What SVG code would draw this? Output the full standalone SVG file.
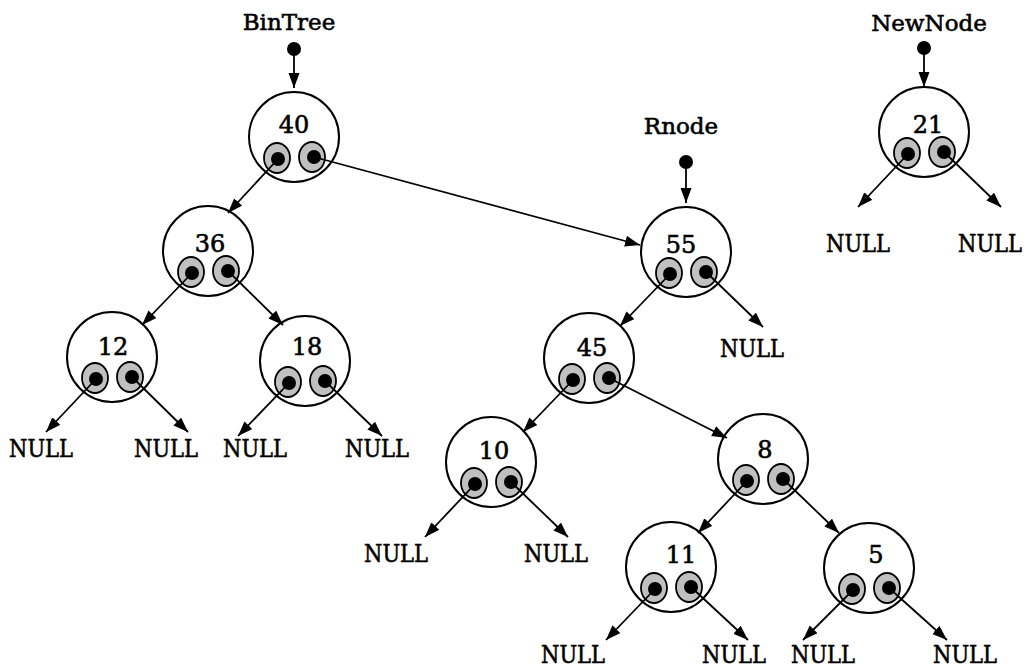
<svg xmlns="http://www.w3.org/2000/svg" width="1034" height="667" viewBox="0 0 1034 667">
<style>
.c{fill:#fff;stroke:#000;stroke-width:2}
.e{fill:#c0c0c0;stroke:#000;stroke-width:1.8}
.d{fill:#000}
.t{font-family:"DejaVu Serif","Liberation Serif",serif;font-size:23px;fill:#000;stroke:#000;stroke-width:0.6;text-anchor:middle}
.n{font-family:"DejaVu Serif","Liberation Serif",serif;font-size:24px;fill:#000;stroke:#000;stroke-width:0.6;text-anchor:middle}
.l{stroke:#000;stroke-width:1.8;fill:none;marker-end:url(#a)}
</style>
<defs>
<marker id="a" markerUnits="userSpaceOnUse" markerWidth="16" markerHeight="12" refX="15" refY="5.5" orient="auto">
<path d="M0,0 L15,5.5 L0,11 z" fill="#000"/>
</marker>
<g id="pp">
<ellipse class="e" cx="-17" cy="21" rx="13" ry="15"/>
<ellipse class="e" cx="18" cy="20" rx="13" ry="15"/>
<circle class="d" cx="-16" cy="22" r="7"/>
<circle class="d" cx="20" cy="20" r="7"/>
</g>
</defs>
<rect width="1034" height="667" fill="#fff"/>

<g id="labels">
<text class="t" x="289" y="30">BinTree</text>
<text class="t" x="681" y="134">Rnode</text>
<text class="t" x="929" y="31">NewNode</text>
<circle class="d" cx="294" cy="49" r="7"/>
<circle class="d" cx="686" cy="162" r="7"/>
<circle class="d" cx="924" cy="48" r="7"/>
</g>

<g id="n40"><circle class="c" cx="294" cy="137" r="45"/><text class="n" x="294" y="133">40</text><use href="#pp" x="294" y="137"/></g>
<g id="n36"><circle class="c" cx="208" cy="251" r="45"/><text class="n" x="210" y="252">36</text><use href="#pp" x="208" y="251"/></g>
<g id="n12"><circle class="c" cx="112" cy="357" r="45"/><text class="n" x="113" y="355">12</text><use href="#pp" x="112" y="357"/></g>
<g id="n18"><circle class="c" cx="305" cy="361" r="45"/><text class="n" x="307" y="355">18</text><use href="#pp" x="305" y="361"/></g>
<g id="n55"><circle class="c" cx="686" cy="252" r="45"/><text class="n" x="681" y="253">55</text><use href="#pp" x="686" y="252"/></g>
<g id="n45"><circle class="c" cx="589" cy="358" r="45"/><text class="n" x="592" y="356">45</text><use href="#pp" x="589" y="358"/></g>
<g id="n8"><circle class="c" cx="763" cy="459" r="45"/><text class="n" x="765" y="458">8</text><use href="#pp" x="763" y="459"/></g>
<g id="n10"><circle class="c" cx="491" cy="462" r="45"/><text class="n" x="494" y="459">10</text><use href="#pp" x="491" y="462"/></g>
<g id="n11"><circle class="c" cx="671" cy="567" r="45"/><text class="n" x="681" y="563">11</text><use href="#pp" x="671" y="567"/></g>
<g id="n5"><circle class="c" cx="869" cy="568" r="45"/><text class="n" x="876" y="563">5</text><use href="#pp" x="869" y="568"/></g>
<g id="n21"><circle class="c" cx="924" cy="132" r="45"/><text class="n" x="928" y="133">21</text><use href="#pp" x="924" y="132"/></g>

<g id="nulls">
<text class="n" x="41" y="457" textLength="64" lengthAdjust="spacingAndGlyphs">NULL</text>
<text class="n" x="166" y="457" textLength="64" lengthAdjust="spacingAndGlyphs">NULL</text>
<text class="n" x="255" y="457" textLength="64" lengthAdjust="spacingAndGlyphs">NULL</text>
<text class="n" x="377" y="457" textLength="64" lengthAdjust="spacingAndGlyphs">NULL</text>
<text class="n" x="752" y="357" textLength="64" lengthAdjust="spacingAndGlyphs">NULL</text>
<text class="n" x="396" y="562" textLength="64" lengthAdjust="spacingAndGlyphs">NULL</text>
<text class="n" x="556" y="562" textLength="64" lengthAdjust="spacingAndGlyphs">NULL</text>
<text class="n" x="573" y="663" textLength="64" lengthAdjust="spacingAndGlyphs">NULL</text>
<text class="n" x="734" y="663" textLength="64" lengthAdjust="spacingAndGlyphs">NULL</text>
<text class="n" x="823" y="663" textLength="64" lengthAdjust="spacingAndGlyphs">NULL</text>
<text class="n" x="965" y="663" textLength="64" lengthAdjust="spacingAndGlyphs">NULL</text>
<text class="n" x="858" y="252" textLength="64" lengthAdjust="spacingAndGlyphs">NULL</text>
<text class="n" x="990" y="252" textLength="64" lengthAdjust="spacingAndGlyphs">NULL</text>
</g>

<g id="connectors">
<line class="l" x1="294" y1="49" x2="294" y2="88"/>
<line class="l" x1="686" y1="162" x2="686" y2="203"/>
<line class="l" x1="924" y1="48" x2="924" y2="87"/>
<line class="l" x1="278" y1="159" x2="228" y2="213"/>
<line class="l" x1="314" y1="157" x2="640" y2="245"/>
<line class="l" x1="192" y1="273" x2="142" y2="325"/>
<line class="l" x1="228" y1="271" x2="283" y2="325"/>
<line class="l" x1="96" y1="379" x2="46" y2="432"/>
<line class="l" x1="132" y1="377" x2="188" y2="432"/>
<line class="l" x1="289" y1="383" x2="238" y2="436"/>
<line class="l" x1="325" y1="381" x2="382" y2="436"/>
<line class="l" x1="670" y1="274" x2="620" y2="326"/>
<line class="l" x1="706" y1="272" x2="763" y2="327"/>
<line class="l" x1="573" y1="380" x2="523" y2="432"/>
<line class="l" x1="609" y1="378" x2="727" y2="438"/>
<line class="l" x1="475" y1="484" x2="425" y2="537"/>
<line class="l" x1="511" y1="482" x2="568" y2="537"/>
<line class="l" x1="747" y1="481" x2="698" y2="533"/>
<line class="l" x1="783" y1="479" x2="839" y2="533"/>
<line class="l" x1="655" y1="589" x2="606" y2="640"/>
<line class="l" x1="691" y1="587" x2="748" y2="640"/>
<line class="l" x1="853" y1="590" x2="803" y2="640"/>
<line class="l" x1="889" y1="588" x2="947" y2="640"/>
<line class="l" x1="908" y1="154" x2="858" y2="207"/>
<line class="l" x1="944" y1="152" x2="1001" y2="207"/>
</g>
</svg>
